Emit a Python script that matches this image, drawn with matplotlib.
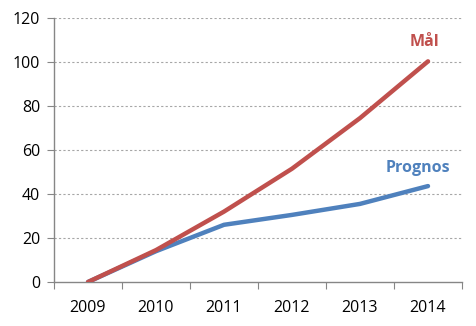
import matplotlib
matplotlib.use("Agg")
import matplotlib.pyplot as plt

years = ["2009", "2010", "2011", "2012", "2013", "2014"]
mal = [0, 14.5, 32, 51.5, 74.5, 100.3]
prognos = [0, 14, 26, 30.5, 35.5, 43.6]

plt.rcParams['font.family'] = ['Open Sans', 'DejaVu Sans']

fig = plt.figure(figsize=(4.77, 3.26), dpi=100)
ax = fig.add_axes([54/477, 1-282/326, (462-54)/477, (282-18)/326])

x = list(range(len(years)))
red = "#C0504D"
blue = "#4F81BD"
ax.plot(x, prognos, color=blue, lw=3.2, solid_capstyle='round', zorder=3)
ax.plot(x, mal, color=red, lw=3.2, solid_capstyle='round', zorder=4)

ax.set_xlim(-0.5, 5.5)
ax.set_ylim(0, 120)
ax.set_yticks(range(0, 121, 20))
ax.set_xticks([i - 0.5 for i in range(7)], minor=False)
ax.set_xticklabels([])
ax.set_xticks(x, minor=True)
ax.set_xticklabels(years, minor=True, fontsize=11.5)
ax.tick_params(axis='x', which='minor', length=0, pad=13)
ax.tick_params(axis='x', which='major', length=5, color='#868686', direction='out')
ax.tick_params(axis='y', length=5, color='#868686', direction='out', labelsize=11.5, pad=5)

for v in range(20, 121, 20):
    ax.axhline(v, color='#A6A6A6', lw=0.8, ls=(0, (2, 2)), zorder=1)

for s in ['top', 'right']:
    ax.spines[s].set_visible(False)
for s in ['left', 'bottom']:
    ax.spines[s].set_color('#868686')
    ax.spines[s].set_linewidth(1)

ax.text(4.95, 109, "Mål", color=red, fontsize=11.5, fontweight='bold', ha='center', va='center')
ax.text(4.85, 52, "Prognos", color=blue, fontsize=11.5, fontweight='bold', ha='center', va='center')

fig.savefig("out.png", dpi=100)
